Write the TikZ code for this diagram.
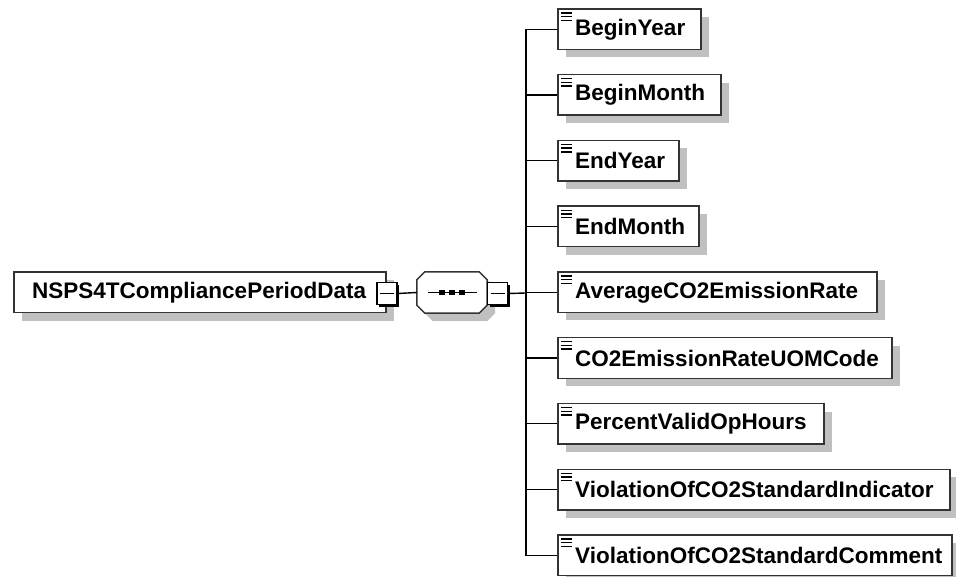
\documentclass[tikz,border=0pt]{standalone}
\usepackage{fontspec}
\setmainfont{Liberation Sans}
\usetikzlibrary{shadows}
\definecolor{boxline}{HTML}{333333}
\definecolor{shadowgray}{HTML}{C0C0C0}
\tikzset{
  graysh/.style={drop shadow={shadow xshift=8pt, shadow yshift=-8pt, fill=shadowgray, opacity=1}},
  elbox/.style={draw=boxline, line width=1.5pt, fill=white, graysh,
    minimum height=40.5pt, inner sep=0pt, anchor=west},
  childbox/.style={elbox, path picture={
      \draw[line width=1.4pt,black] ([shift={(3pt,-4pt)}]path picture bounding box.north west) -- ++(11pt,0pt);
      \draw[line width=1.4pt,black] ([shift={(3pt,-7.7pt)}]path picture bounding box.north west) -- ++(11pt,0pt);
      \draw[line width=1.4pt,black] ([shift={(3pt,-11.4pt)}]path picture bounding box.north west) -- ++(11pt,0pt);}},
  eltext/.style={font=\fontsize{22.5}{27}\selectfont\bfseries, text=black, anchor=west, inner sep=0pt},
  minusbox/.style={draw=black, line width=1.3pt, fill=white, minimum width=20pt, minimum height=22pt, inner sep=0pt,
    drop shadow={shadow xshift=2.2pt, shadow yshift=-2.2pt, fill=black, opacity=1},
    path picture={\draw[line width=1.4pt] ([xshift=3pt]path picture bounding box.west) -- ([xshift=-3pt]path picture bounding box.east);}},
  seqframe/.style={draw=boxline, line width=1.5pt, fill=white, graysh},
  conn/.style={draw=black, line width=1.4pt}
}
\begin{document}
\begin{tikzpicture}[x=1pt,y=-1pt]
\useasboundingbox (0,0) rectangle (956,577);
% main element
\node[elbox, minimum width=372pt] (main) at (13,292.5) {};
\node[eltext] (maintext) at ([xshift=19pt]main.west) {NSPS4TCompliancePeriodData};
\node[minusbox] (mminus) at (387,293.5) {};
% sequence compositor
\node[minimum width=70pt, minimum height=41pt, inner sep=0pt] (seq) at (452,292.5) {};
\path[seqframe] ([yshift=-8pt]seq.north west) -- ([xshift=8pt]seq.north west)
  -- ([xshift=-8pt]seq.north east) -- ([yshift=-8pt]seq.north east)
  -- ([yshift=8pt]seq.south east) -- ([xshift=-8pt]seq.south east)
  -- ([xshift=8pt]seq.south west) -- ([yshift=8pt]seq.south west) -- cycle;
\draw[line width=1.4pt] ([xshift=-24pt]seq.center) -- ([xshift=25pt]seq.center);
\foreach \dx in {-10,0,10}{
  \fill ([shift={(\dx pt-2.6pt,-2.6pt)}]seq.center) rectangle ++(5.2pt,5.2pt);
}
\node[minusbox] (sminus) at (497.5,293.5) {};
\coordinate (spine) at (526,293);
\draw[conn] (mminus.east) -- (seq.west);
\draw[conn] (sminus.east) -- (spine);
% children
\foreach \i/\w/\name in {0/143/BeginYear,1/163/BeginMonth,2/121/EndYear,3/141/EndMonth,
  4/319/AverageCO2EmissionRate,5/334/CO2EmissionRateUOMCode,6/266/PercentValidOpHours,
  7/392/ViolationOfCO2StandardIndicator,8/394/ViolationOfCO2StandardComment}{
  \node[childbox, minimum width=\w pt] (c\i) at (557,29.25+65.75*\i) {};
  \node[eltext] (t\i) at ([xshift=18pt]c\i.west) {\name};
  \draw[conn] (spine) |- (c\i.west);
}
\end{tikzpicture}
\end{document}
